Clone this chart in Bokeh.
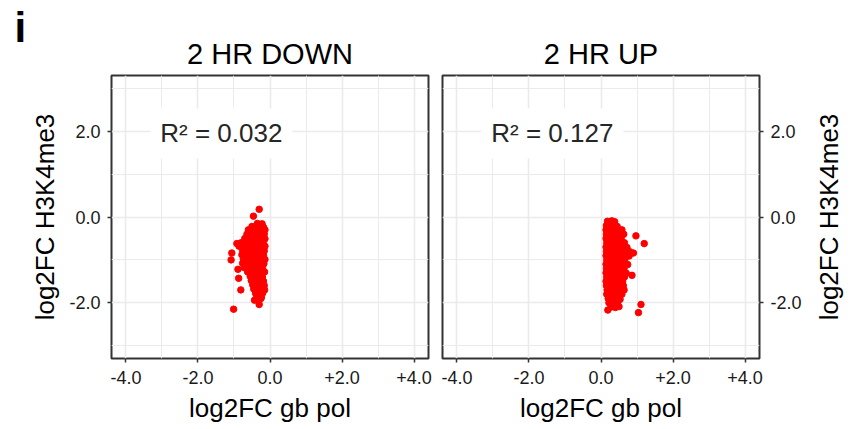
import math
from bokeh.plotting import figure
from bokeh.layouts import row
from bokeh.models import FixedTicker, Label, Title
from bokeh.core.properties import value
from bokeh.embed import file_html
from bokeh.resources import INLINE

# ---------------- data ----------------
panel_letter = "i"
panel_titles = ["2 HR DOWN", "2 HR UP"]
r2_texts = ["R² = 0.032", "R² = 0.127"]
x_axis_title = "log2FC gb pol"
y_axis_title = "log2FC H3K4me3"

x_ticks = [-4, -2, 0, 2, 4]
x_tick_labels = ["-4.0", "-2.0", "0.0", "+2.0", "+4.0"]
x_minor_ticks = [-3, -1, 1, 3]
y_ticks = [-2, 0, 2]
y_tick_labels = ["-2.0", "0.0", "2.0"]
y_minor_ticks = [-3, -1, 1, 3]

# 2 HR DOWN: log2FC gb pol (x) and log2FC H3K4me3 (y)
down_gb_pol = [
    -0.30, -0.46,
    -0.35, -0.22,
    -0.50, -0.40, -0.28, -0.18,
    -0.60, -0.47, -0.34, -0.22, -0.14,
    -0.64, -0.52, -0.39, -0.27, -0.16,
    -0.70, -0.58, -0.46, -0.34, -0.23, -0.14,
    -0.80, -0.68, -0.55, -0.42, -0.30, -0.19,
    -0.92, -0.86, -0.73, -0.60, -0.47, -0.35, -0.24, -0.14,
    -1.06, -0.76, -0.63, -0.50, -0.38, -0.27, -0.16,
    -0.78, -0.65, -0.53, -0.41, -0.29, -0.18,
    -1.08, -0.74, -0.60, -0.47, -0.35, -0.24, -0.14,
    -0.76, -0.63, -0.51, -0.39, -0.27, -0.17,
    -0.72, -0.58, -0.45, -0.33, -0.21,
    -0.89, -0.62, -0.49, -0.37, -0.25, -0.15,
    -0.55, -0.44, -0.32, -0.21,
    -0.87, -0.52, -0.40, -0.29, -0.18,
    -0.48, -0.37, -0.26, -0.16,
    -0.81, -0.45, -0.34, -0.23, -0.15,
    -0.40, -0.30, -0.20,
    -0.36, -0.24, -0.35, -0.25,
    -0.43, -0.30, -1.01,
]
down_h3k4me3 = [
    0.18, 0.02,
    -0.15, -0.16,
    -0.22, -0.23, -0.21, -0.24,
    -0.30, -0.31, -0.29, -0.32, -0.30,
    -0.40, -0.41, -0.39, -0.42, -0.40,
    -0.50, -0.51, -0.49, -0.52, -0.50, -0.51,
    -0.60, -0.61, -0.59, -0.62, -0.60, -0.61,
    -0.62, -0.68, -0.69, -0.67, -0.70, -0.68, -0.69, -0.68,
    -0.84, -0.78, -0.79, -0.77, -0.80, -0.78, -0.79,
    -0.88, -0.89, -0.87, -0.90, -0.88, -0.89,
    -1.00, -0.98, -0.99, -0.97, -1.00, -0.98, -0.99,
    -1.08, -1.09, -1.07, -1.10, -1.08, -1.09,
    -1.18, -1.19, -1.17, -1.20, -1.18,
    -1.22, -1.28, -1.29, -1.27, -1.30, -1.28,
    -1.38, -1.39, -1.37, -1.40,
    -1.43, -1.48, -1.49, -1.47, -1.50,
    -1.58, -1.59, -1.57, -1.60,
    -1.70, -1.68, -1.69, -1.67, -1.70,
    -1.78, -1.79, -1.77,
    -1.86, -1.87, -1.85, -1.90,
    -1.94, -2.04, -2.15,
]

# 2 HR UP
up_gb_pol = [
    0.18, 0.30, 0.38,
    0.15, 0.25, 0.35, 0.45,
    0.14, 0.24, 0.34, 0.46, 0.58,
    0.15, 0.26, 0.37, 0.50, 0.63, 0.97,
    0.14, 0.23, 0.33, 0.44, 0.56,
    0.16, 0.27, 0.38, 0.50, 0.65, 1.20,
    0.14, 0.24, 0.35, 0.47, 0.60, 0.72,
    0.15, 0.26, 0.38, 0.52, 0.68, 0.80, 0.90,
    0.14, 0.23, 0.34, 0.46, 0.60, 0.78,
    0.16, 0.27, 0.39, 0.52, 0.66,
    0.14, 0.24, 0.36, 0.48, 0.62, 0.74,
    0.15, 0.26, 0.38, 0.50, 0.64,
    0.14, 0.23, 0.34, 0.46, 0.58, 0.70,
    0.16, 0.27, 0.39, 0.52, 0.65, 0.86,
    0.14, 0.25, 0.36, 0.48, 0.60,
    0.15, 0.26, 0.38, 0.50, 0.62,
    0.17, 0.28, 0.40, 0.54, 0.64,
    0.16, 0.27, 0.38, 0.50, 0.58,
    0.20, 0.31, 0.43, 0.53,
    0.22, 0.34, 0.46, 1.11,
    0.19, 0.28, 0.40, 0.50,
    1.04,
]
up_h3k4me3 = [
    -0.10, -0.09, -0.11,
    -0.20, -0.21, -0.19, -0.22,
    -0.30, -0.31, -0.29, -0.32, -0.30,
    -0.40, -0.41, -0.39, -0.42, -0.40, -0.44,
    -0.50, -0.51, -0.49, -0.52, -0.50,
    -0.60, -0.61, -0.59, -0.62, -0.60, -0.62,
    -0.70, -0.71, -0.69, -0.72, -0.70, -0.71,
    -0.80, -0.81, -0.79, -0.82, -0.80, -0.81, -0.84,
    -0.90, -0.91, -0.89, -0.92, -0.90, -0.91,
    -1.00, -1.01, -0.99, -1.02, -1.00,
    -1.10, -1.11, -1.09, -1.12, -1.10, -1.11,
    -1.20, -1.21, -1.19, -1.22, -1.20,
    -1.30, -1.31, -1.29, -1.32, -1.30, -1.31,
    -1.40, -1.41, -1.39, -1.42, -1.40, -1.36,
    -1.50, -1.51, -1.49, -1.52, -1.50,
    -1.60, -1.61, -1.59, -1.62, -1.60,
    -1.70, -1.71, -1.69, -1.72, -1.70,
    -1.80, -1.81, -1.79, -1.82, -1.80,
    -1.90, -1.91, -1.89, -1.92,
    -2.00, -2.01, -1.99, -2.04,
    -2.17, -2.10, -2.11, -2.09,
    -2.23,
]

FONT = "Liberation Sans"
GRID = "#EBEBEB"
DARK = "#333333"
FRAME_H = 283
TOP = 75
BOTTOM = 71


def style_axis(ax, ticks, minor, labels):
    ax.ticker = FixedTicker(ticks=ticks, minor_ticks=minor)
    ax.major_label_overrides = {t: l for t, l in zip(ticks, labels)}
    ax.axis_line_color = None
    ax.major_tick_in = 0
    ax.major_tick_out = 4
    ax.major_tick_line_color = DARK
    ax.major_tick_line_width = 1.5
    ax.minor_tick_line_color = None
    ax.major_label_text_font = FONT
    ax.major_label_text_font_size = "18px"
    ax.major_label_text_color = "#1a1a1a"
    ax.major_label_standoff = 7
    ax.axis_label_text_font = FONT
    ax.axis_label_text_font_size = "26px"
    ax.axis_label_text_font_style = "normal"
    ax.axis_label_text_color = "black"


def make_panel(title, xs, ys, r2, side, b_left, b_right):
    p = figure(frame_width=317, frame_height=FRAME_H,
               x_range=(-4.4, 4.4), y_range=(-3.3, 3.3),
               y_axis_location=side,
               min_border_left=b_left, min_border_right=b_right,
               min_border_top=TOP, min_border_bottom=BOTTOM,
               output_backend="svg", toolbar_location=None,
               background_fill_color="white", border_fill_color="white")
    p.title = None
    p.add_layout(Title(text=title, align="center", text_font=FONT,
                       text_font_size="29px", text_font_style="normal",
                       text_color="black", standoff=12), "above")

    style_axis(p.xaxis[0], x_ticks, x_minor_ticks, x_tick_labels)
    style_axis(p.yaxis[0], y_ticks, y_minor_ticks, y_tick_labels)
    p.xaxis[0].axis_label = x_axis_title
    p.xaxis[0].major_label_standoff = 8
    p.xaxis[0].axis_label_standoff = 6

    for g in (p.xgrid[0], p.ygrid[0]):
        g.grid_line_color = GRID
        g.grid_line_width = 1.6
        g.minor_grid_line_color = GRID
        g.minor_grid_line_width = 1.0

    p.outline_line_color = DARK
    p.outline_line_width = 2
    p.outline_line_alpha = 1

    p.add_layout(Label(x=-1.35, y=1.95, text=r2, text_align="center",
                       text_baseline="middle", text_font=FONT,
                       text_font_size="26px", text_color="#262626",
                       background_fill_color="white", padding=10))

    p.scatter(xs, ys, size=6.5, color="#FF0000", line_color="#FF0000")
    return p


def side_strip(width):
    s = figure(frame_width=width, frame_height=FRAME_H,
               x_range=(0, width), y_range=(0, FRAME_H),
               x_axis_location=None, y_axis_location=None,
               min_border_left=0, min_border_right=0,
               min_border_top=TOP, min_border_bottom=BOTTOM,
               output_backend="svg", toolbar_location=None,
               background_fill_color="white", border_fill_color="white")
    s.title = None
    s.grid.visible = False
    s.outline_line_color = None
    return s


# strip at the far left holding the panel letter (as a title above its frame);
# a blank, tiny title underneath lifts the letter to the top of the page
strip_l = side_strip(26)
strip_l.add_layout(Title(text=" ", text_font_size="1px", standoff=22), "above")
strip_l.add_layout(Title(text=panel_letter, align="left", offset=14, standoff=0,
                         text_font=FONT, text_font_size="42px",
                         text_font_style="bold", text_color="black"), "above")

p1 = make_panel(panel_titles[0], down_gb_pol, down_h3k4me3, r2_texts[0], "left", 85, 7)
p1.yaxis[0].axis_label = y_axis_title
p1.yaxis[0].axis_label_standoff = 6

p2 = make_panel(panel_titles[1], up_gb_pol, up_h3k4me3, r2_texts[1], "right", 7, 50)

# strip at the far right holding the right-hand y axis title (reads bottom-to-top)
strip_r = side_strip(40)
strip_r.text(x=[19], y=[FRAME_H / 2], text=[y_axis_title], angle=math.pi / 2,
             text_align="center", text_baseline="middle", text_font=value(FONT),
             text_font_size="26px", text_color="black")

layout = row(strip_l, p1, p2, strip_r)
open("out.html", "w").write(file_html(layout, INLINE))
